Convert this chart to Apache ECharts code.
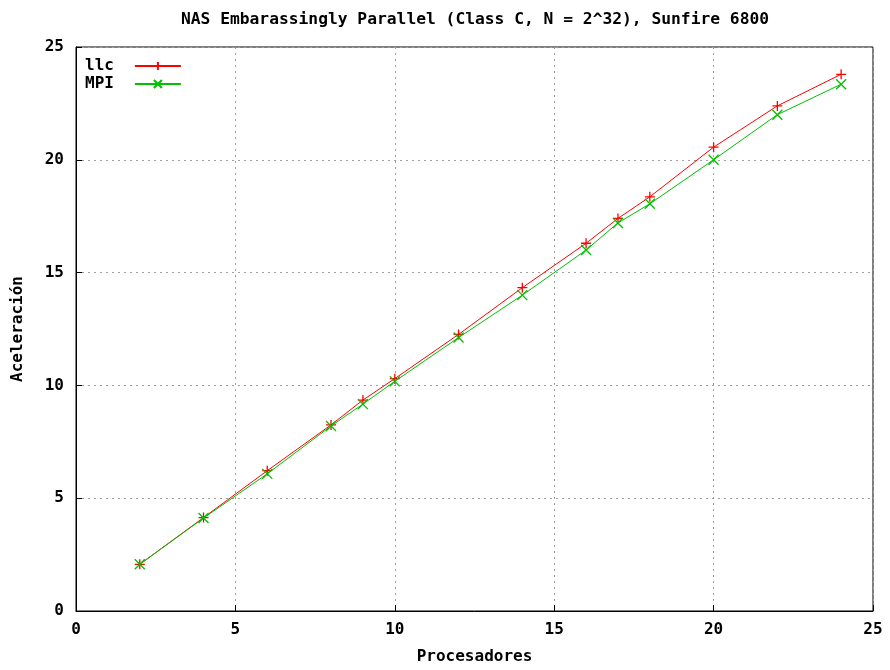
<!DOCTYPE html>
<html>
<head>
<meta charset="utf-8">
<script src="https://cdn.jsdelivr.net/npm/echarts@6/dist/echarts.min.js"></script>
<style>
  html, body { margin: 0; padding: 0; background: #fff; }
  #chart { width: 890px; height: 670px; }
</style>
</head>
<body>
<div id="chart"></div>
<script>
// Speedup of the NAS EP benchmark on a Sunfire 6800
const processors = [2, 4, 6, 8, 9, 10, 12, 14, 16, 17, 18, 20, 22, 24];
const llcSpeedup = [2.07, 4.14, 6.22, 8.25, 9.35, 10.3, 12.26, 14.33, 16.3, 17.4, 18.36, 20.56, 22.39, 23.79];
const mpiSpeedup = [2.07, 4.12, 6.08, 8.2, 9.17, 10.18, 12.12, 14.0, 16.0, 17.2, 18.05, 20.0, 22.0, 23.35];
const xTicks = [0, 5, 10, 15, 20, 25];
const yTicks = [0, 5, 10, 15, 20, 25];

const FONT = '"DejaVu Sans Mono", "Liberation Mono", monospace';
const RED = '#ff0000';
const GREEN = '#00c000';

const plusPath = 'path://M5,0L5,10M0,5L10,5';
const crossPath = 'path://M0,0L10,10M10,0L0,10';

function pairs(xs, ys) { return xs.map((x, i) => [x, ys[i]]); }

const axisText = { color: '#000', fontFamily: FONT, fontWeight: 'bold', fontSize: 16 };

const chart = echarts.init(document.getElementById('chart'), null, { renderer: 'canvas' });
chart.setOption({
  animation: false,
  backgroundColor: '#fff',
  title: {
    text: 'NAS Embarassingly Parallel (Class C, N = 2^32), Sunfire 6800',
    left: 470, top: 7, textAlign: 'center',
    textStyle: { color: '#000', fontFamily: FONT, fontWeight: 'bold', fontSize: 16.3 }
  },
  legend: {
    left: 80, top: 53, orient: 'vertical', align: 'right',
    itemWidth: 46, itemHeight: 10, itemGap: 2,
    textStyle: { color: '#000', fontFamily: FONT, fontWeight: 'bold', fontSize: 16, padding: [0, 16, 0, 0] },
    data: ['llc', 'MPI']
  },
  grid: { left: 76, right: 17, top: 47, bottom: 56, containLabel: false,
          show: true, borderColor: '#000', borderWidth: 1 },
  xAxis: {
    type: 'value', min: 0, max: 25, interval: 5,
    name: 'Procesadores', nameLocation: 'middle', nameGap: 38,
    nameTextStyle: axisText,
    axisLine: { show: true, lineStyle: { color: '#000' } },
    axisTick: { show: true, inside: true, length: 6, lineStyle: { color: '#000' } },
    axisLabel: Object.assign({ margin: 11, formatter: v => xTicks.includes(v) ? String(v) : '' }, axisText),
    splitLine: { show: true, lineStyle: { color: '#a0a0a0', type: [2, 4], width: 1 } }
  },
  yAxis: {
    type: 'value', min: 0, max: 25, interval: 5,
    name: 'Aceleración', nameLocation: 'middle', nameGap: 50, nameRotate: 90,
    nameTextStyle: axisText,
    axisLine: { show: true, lineStyle: { color: '#000' } },
    axisTick: { show: true, inside: true, length: 6, lineStyle: { color: '#000' } },
    axisLabel: Object.assign({ margin: 12, formatter: v => yTicks.includes(v) ? String(v) : '' }, axisText),
    splitLine: { show: true, lineStyle: { color: '#a0a0a0', type: [2, 4], width: 1 } }
  },
  series: [
    {
      name: 'llc', type: 'line', data: pairs(processors, llcSpeedup),
      symbol: plusPath, symbolSize: 10, showSymbol: true,
      lineStyle: { color: RED, width: 1 },
      itemStyle: { color: 'rgba(0,0,0,0)', borderColor: RED, borderWidth: 1.3 },
      z: 3
    },
    {
      name: 'MPI', type: 'line', data: pairs(processors, mpiSpeedup),
      symbol: crossPath, symbolSize: 10, showSymbol: true,
      lineStyle: { color: GREEN, width: 1 },
      itemStyle: { color: 'rgba(0,0,0,0)', borderColor: GREEN, borderWidth: 1.3 },
      z: 4
    }
  ]
});
</script>
</body>
</html>
